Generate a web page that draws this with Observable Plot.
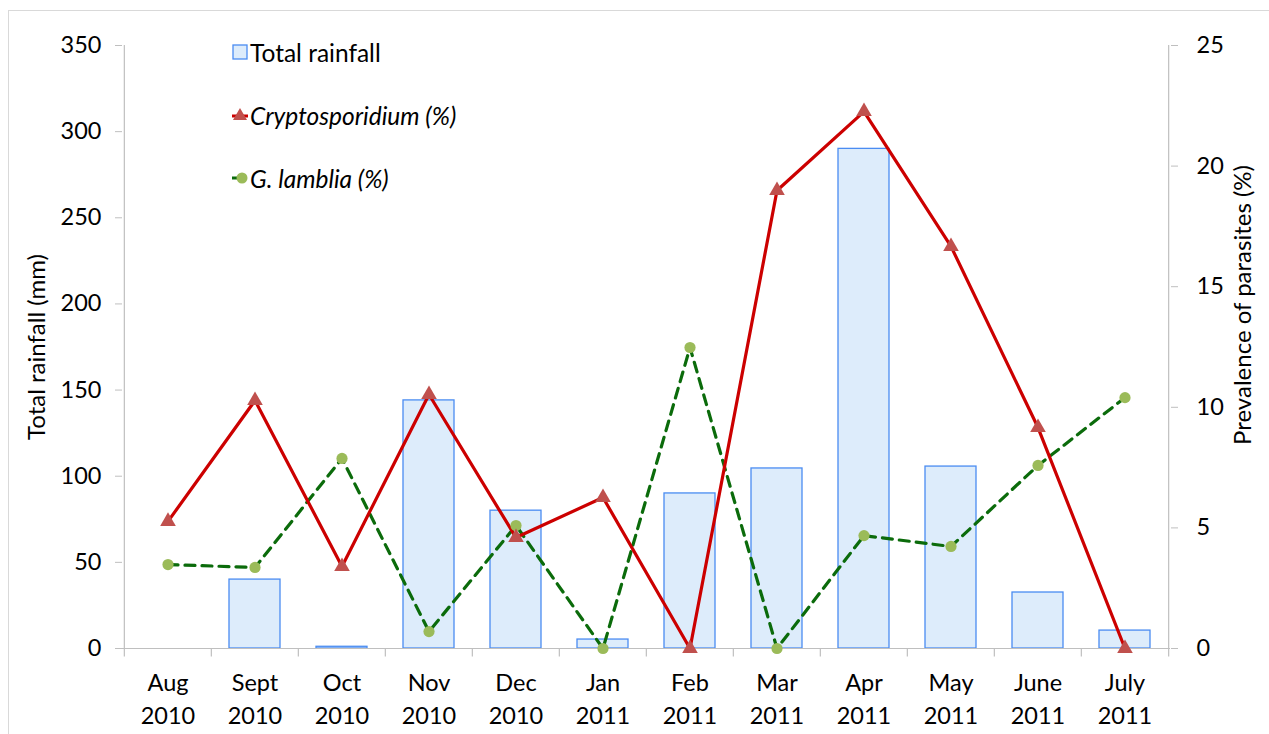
<!DOCTYPE html>
<html><head><meta charset="utf-8">
<script src="https://cdn.jsdelivr.net/npm/d3@7"></script>
<script src="https://cdn.jsdelivr.net/npm/@observablehq/plot@0.6"></script>
<style>
body{margin:0;background:#fff;font-family:Lato,sans-serif}
#wrap{position:relative;width:1269px;height:734px}
#frame{position:absolute;left:8px;top:10px;right:0;bottom:0;border-left:1.5px solid #d9d9d9;border-top:1.5px solid #d9d9d9;pointer-events:none}
.leg{position:absolute;left:232px;display:flex;align-items:center;font-size:24.5px;color:#000;white-space:nowrap}
.leg svg{display:block;margin-right:2px}
</style>
</head><body>
<div id="wrap"><div id="frame"></div></div>
<script>
const months = ["Aug\n2010","Sept\n2010","Oct\n2010","Nov\n2010","Dec\n2010","Jan\n2011","Feb\n2011","Mar\n2011","Apr\n2011","May\n2011","June\n2011","July\n2011"];
const rainfall = [0, 40, 1, 144, 80, 5.2, 90, 104.5, 290, 105.6, 32.5, 10.4];
const cryptosporidium = [5.27, 10.28, 3.4, 10.53, 4.6, 6.26, 0, 18.99, 22.26, 16.67, 9.16, 0];
const giardia = [3.48, 3.36, 7.88, 0.7, 5.1, 0, 12.48, 0, 4.68, 4.23, 7.59, 10.4];
const rainTicks = [0, 50, 100, 150, 200, 250, 300, 350];
const prevTicks = [0, 5, 10, 15, 20, 25];
const rainMax = 350, prevMax = 25;
const k = rainMax / prevMax;

const data = months.map((m, i) => ({month: m, rain: rainfall[i], crypto: cryptosporidium[i] * k, giardia: giardia[i] * k}));

const W = 1269, H = 734, mL = 122, mR = 99, mT = 45, mB = 86;
const step = (W - mL - mR) / months.length;
const grid = "#bfbfbf";
const font = "Lato, sans-serif";
const fs = 23.5;

const chart = Plot.plot({
  width: W, height: H,
  marginLeft: mL, marginRight: mR, marginTop: mT, marginBottom: mB,
  style: {fontFamily: font, fontSize: fs + "px", background: "transparent", color: "#000"},
  x: {domain: months, type: "band", paddingInner: 0.415, paddingOuter: 0.2075, axis: null},
  y: {domain: [0, rainMax], axis: null},
  marks: [
    Plot.barY(data.filter(d => d.rain > 0), {x: "month", y: "rain", fill: "#ddecfb", stroke: "#4a8cf2", strokeWidth: 1.3}),
    Plot.ruleY([0], {stroke: grid, strokeWidth: 1.2}),
    Plot.ruleX(months, {x: d => d, dx: -step / 2, y1: d => d === months[0] ? rainMax : 0, y2: -5, stroke: grid, strokeWidth: 1.2}),
    Plot.ruleX([months[months.length - 1]], {x: d => d, dx: step / 2, y1: rainMax, y2: -5, stroke: grid, strokeWidth: 1.2}),
    Plot.axisY(rainTicks, {anchor: "left", tickSize: 7, tickPadding: 14, stroke: grid, fill: "#000", label: null, fontSize: fs}),
    Plot.axisY(prevTicks.map(p => p * k), {anchor: "right", tickSize: 7, tickPadding: 19, stroke: grid, fill: "#000", label: null, tickFormat: d => String(Math.round(d / k)), fontSize: fs}),
    Plot.axisX({tickSize: 0, tickPadding: 19, lineHeight: 1.4, label: null, fontSize: fs}),
    Plot.text(["Total rainfall (mm)"], {frameAnchor: "left", dx: -85, rotate: -90, textAnchor: "middle", fontSize: 24, fill: "#000"}),
    Plot.text(["Prevalence of parasites (%)"], {frameAnchor: "right", dx: 73, dy: -42, rotate: -90, textAnchor: "middle", fontSize: 24, fill: "#000"}),
    Plot.line(data, {x: "month", y: "giardia", stroke: "#0b6b0b", strokeWidth: 3.2, strokeDasharray: "10,7"}),
    Plot.line(data, {x: "month", y: "crypto", stroke: "#cc0000", strokeWidth: 3.2}),
    Plot.dot(data, {x: "month", y: "giardia", r: 5.6, fill: "#9bbb59", stroke: "none"}),
    Plot.dot(data, {x: "month", y: "crypto", symbol: "triangle", r: 5.8, fill: "#c0504d", stroke: "none"})
  ]
});
const wrap = document.getElementById("wrap");
wrap.insertBefore(chart, wrap.firstChild);

const legend = [
  {top: 52, html: '<svg width="16" height="16"><rect x="1" y="1" width="14" height="14" fill="#ddecfb" stroke="#4a8cf2" stroke-width="1.3"/></svg><span>Total rainfall</span>'},
  {top: 115, html: '<svg width="16" height="16"><line x1="0" x2="16" y1="9" y2="9" stroke="#cc0000" stroke-width="3"/><path d="M8,1 L15,13 L1,13 Z" fill="#c0504d"/></svg><i>Cryptosporidium (%)</i>'},
  {top: 178, html: '<svg width="16" height="16"><line x1="0" x2="6" y1="8" y2="8" stroke="#0b6b0b" stroke-width="3"/><circle cx="10" cy="8" r="5.5" fill="#9bbb59"/></svg><i>G. lamblia (%)</i>'}
];
for (const l of legend) {
  const d = document.createElement("div");
  d.className = "leg";
  d.style.top = (l.top - 15) + "px";
  d.style.height = "30px";
  d.innerHTML = l.html;
  wrap.appendChild(d);
}
</script>
</body></html>
